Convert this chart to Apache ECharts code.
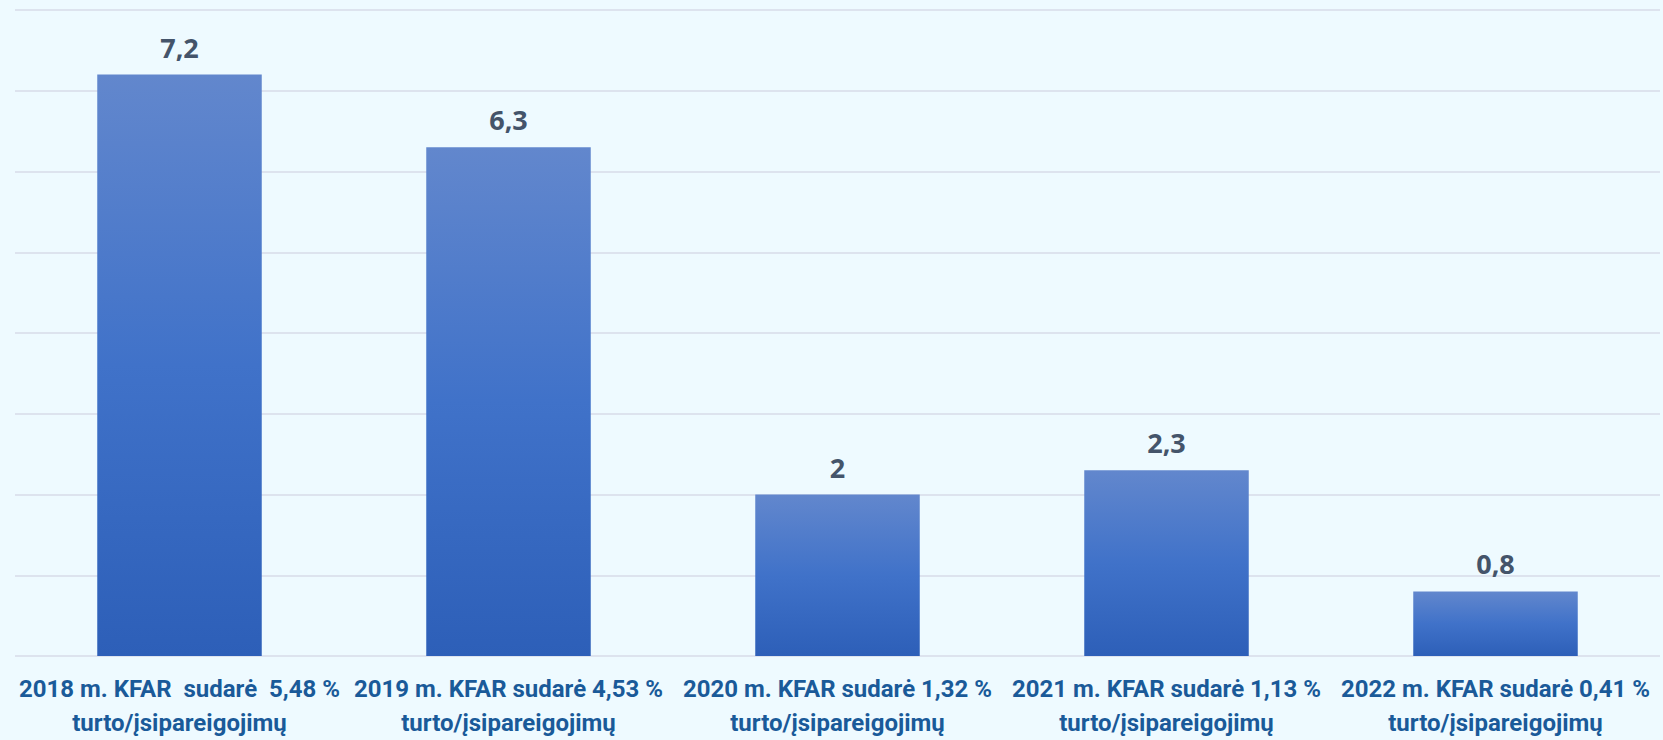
<!DOCTYPE html>
<html>
<head>
<meta charset="utf-8">
<script src="https://cdn.jsdelivr.net/npm/echarts@6/dist/echarts.min.js"></script>
<style>
  html, body { margin: 0; padding: 0; background: #eefaff; }
  #chart { width: 1663px; height: 740px; }
</style>
</head>
<body>
<div id="chart"></div>
<script>
// duomenys
const categories = [
  "2018 m. KFAR  sudarė  5,48 %\nturto/įsipareigojimų",
  "2019 m. KFAR sudarė 4,53 %\nturto/įsipareigojimų",
  "2020 m. KFAR sudarė 1,32 %\nturto/įsipareigojimų",
  "2021 m. KFAR sudarė 1,13 %\nturto/įsipareigojimų",
  "2022 m. KFAR sudarė 0,41 %\nturto/įsipareigojimų",
];
const values = [7.2, 6.3, 2, 2.3, 0.8];

const chart = echarts.init(document.getElementById("chart"), null, { renderer: "svg" });

chart.setOption({
  backgroundColor: "#eefaff",
  animation: false,
  grid: { left: 15, right: 3, top: 10, bottom: 83 },
  xAxis: {
    type: "category",
    data: categories,
    axisLine: { show: false },
    axisTick: { show: false },
    axisLabel: {
      interval: 0,
      margin: 16,
      color: "#1a5a99",
      fontFamily: "Roboto, sans-serif",
      fontWeight: "bold",
      fontSize: 24,
      lineHeight: 34,
    },
  },
  yAxis: {
    type: "value",
    min: 0,
    max: 8,
    interval: 1,
    axisLabel: { show: false },
    axisLine: { show: false },
    axisTick: { show: false },
    splitLine: { lineStyle: { color: "#dde3ee", width: 2 } },
  },
  series: [
    {
      type: "bar",
      data: values,
      barWidth: "50%",
      itemStyle: {
        color: new echarts.graphic.LinearGradient(0, 0, 0, 1, [
          { offset: 0, color: "#6287cd" },
          { offset: 0.5, color: "#4072c9" },
          { offset: 1, color: "#2d5fb8" },
        ]),
      },
      label: {
        show: true,
        position: "top",
        distance: 14,
        color: "#44546a",
        fontFamily: "Open Sans, sans-serif",
        fontWeight: "bold",
        fontSize: 27,
        formatter: (p) => String(p.value).replace(".", ","),
      },
    },
  ],
});
</script>
</body>
</html>
